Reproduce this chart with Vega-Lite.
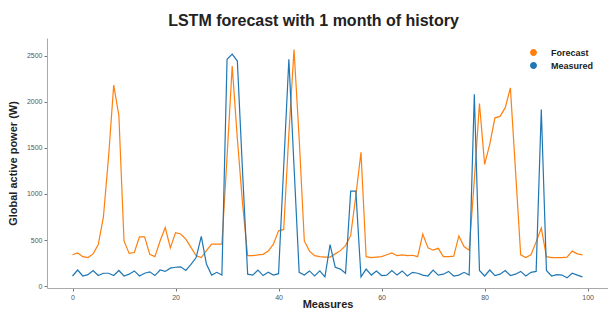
{
  "$schema": "https://vega.github.io/schema/vega-lite/v6.json",
  "width": 561,
  "height": 250,
  "autosize": {"type": "none"},
  "padding": {"left": 47, "top": 38, "right": 0, "bottom": 21},
  "background": "white",
  "title": {"text": "LSTM forecast with 1 month of history", "font": "Liberation Sans", "fontSize": 16, "fontWeight": "bold", "color": "#222222", "anchor": "middle", "dx": -14, "offset": 9},
  "data": {"values": [
    {"measure": 0, "Forecast": 340, "Measured": 110},
    {"measure": 1, "Forecast": 360, "Measured": 175},
    {"measure": 2, "Forecast": 320, "Measured": 110},
    {"measure": 3, "Forecast": 310, "Measured": 125},
    {"measure": 4, "Forecast": 350, "Measured": 170},
    {"measure": 5, "Forecast": 450, "Measured": 115},
    {"measure": 6, "Forecast": 750, "Measured": 140},
    {"measure": 7, "Forecast": 1400, "Measured": 140},
    {"measure": 8, "Forecast": 2180, "Measured": 115},
    {"measure": 9, "Forecast": 1850, "Measured": 170},
    {"measure": 10, "Forecast": 490, "Measured": 110},
    {"measure": 11, "Forecast": 355, "Measured": 130},
    {"measure": 12, "Forecast": 365, "Measured": 165},
    {"measure": 13, "Forecast": 535, "Measured": 110},
    {"measure": 14, "Forecast": 535, "Measured": 140},
    {"measure": 15, "Forecast": 345, "Measured": 155},
    {"measure": 16, "Forecast": 320, "Measured": 115},
    {"measure": 17, "Forecast": 490, "Measured": 175},
    {"measure": 18, "Forecast": 635, "Measured": 160},
    {"measure": 19, "Forecast": 415, "Measured": 195},
    {"measure": 20, "Forecast": 580, "Measured": 205},
    {"measure": 21, "Forecast": 565, "Measured": 210},
    {"measure": 22, "Forecast": 510, "Measured": 170},
    {"measure": 23, "Forecast": 420, "Measured": 235},
    {"measure": 24, "Forecast": 330, "Measured": 310},
    {"measure": 25, "Forecast": 310, "Measured": 540},
    {"measure": 26, "Forecast": 385, "Measured": 240},
    {"measure": 27, "Forecast": 455, "Measured": 120},
    {"measure": 28, "Forecast": 455, "Measured": 150},
    {"measure": 29, "Forecast": 455, "Measured": 120},
    {"measure": 30, "Forecast": 1400, "Measured": 2460},
    {"measure": 31, "Forecast": 2385, "Measured": 2515},
    {"measure": 32, "Forecast": 1600, "Measured": 2440},
    {"measure": 33, "Forecast": 900, "Measured": 1250},
    {"measure": 34, "Forecast": 330, "Measured": 130},
    {"measure": 35, "Forecast": 330, "Measured": 120},
    {"measure": 36, "Forecast": 340, "Measured": 175},
    {"measure": 37, "Forecast": 345, "Measured": 115},
    {"measure": 38, "Forecast": 380, "Measured": 150},
    {"measure": 39, "Forecast": 455, "Measured": 120},
    {"measure": 40, "Forecast": 600, "Measured": 135},
    {"measure": 41, "Forecast": 615, "Measured": 1300},
    {"measure": 42, "Forecast": 1650, "Measured": 2460},
    {"measure": 43, "Forecast": 2565, "Measured": 1300},
    {"measure": 44, "Forecast": 1600, "Measured": 150},
    {"measure": 45, "Forecast": 490, "Measured": 120},
    {"measure": 46, "Forecast": 380, "Measured": 165},
    {"measure": 47, "Forecast": 330, "Measured": 110},
    {"measure": 48, "Forecast": 320, "Measured": 165},
    {"measure": 49, "Forecast": 315, "Measured": 100},
    {"measure": 50, "Forecast": 315, "Measured": 450},
    {"measure": 51, "Forecast": 350, "Measured": 205},
    {"measure": 52, "Forecast": 385, "Measured": 185},
    {"measure": 53, "Forecast": 440, "Measured": 140},
    {"measure": 54, "Forecast": 550, "Measured": 1030},
    {"measure": 55, "Forecast": 980, "Measured": 1030},
    {"measure": 56, "Forecast": 1450, "Measured": 100},
    {"measure": 57, "Forecast": 320, "Measured": 185},
    {"measure": 58, "Forecast": 310, "Measured": 120},
    {"measure": 59, "Forecast": 315, "Measured": 165},
    {"measure": 60, "Forecast": 320, "Measured": 115},
    {"measure": 61, "Forecast": 340, "Measured": 120},
    {"measure": 62, "Forecast": 360, "Measured": 170},
    {"measure": 63, "Forecast": 330, "Measured": 120},
    {"measure": 64, "Forecast": 340, "Measured": 165},
    {"measure": 65, "Forecast": 330, "Measured": 110},
    {"measure": 66, "Forecast": 335, "Measured": 150},
    {"measure": 67, "Forecast": 320, "Measured": 140},
    {"measure": 68, "Forecast": 565, "Measured": 120},
    {"measure": 69, "Forecast": 415, "Measured": 110},
    {"measure": 70, "Forecast": 390, "Measured": 175},
    {"measure": 71, "Forecast": 410, "Measured": 120},
    {"measure": 72, "Forecast": 320, "Measured": 130},
    {"measure": 73, "Forecast": 320, "Measured": 160},
    {"measure": 74, "Forecast": 325, "Measured": 110},
    {"measure": 75, "Forecast": 545, "Measured": 120},
    {"measure": 76, "Forecast": 430, "Measured": 150},
    {"measure": 77, "Forecast": 390, "Measured": 120},
    {"measure": 78, "Forecast": 1150, "Measured": 2080},
    {"measure": 79, "Forecast": 1980, "Measured": 170},
    {"measure": 80, "Forecast": 1320, "Measured": 110},
    {"measure": 81, "Forecast": 1540, "Measured": 175},
    {"measure": 82, "Forecast": 1825, "Measured": 115},
    {"measure": 83, "Forecast": 1840, "Measured": 130},
    {"measure": 84, "Forecast": 1935, "Measured": 170},
    {"measure": 85, "Forecast": 2150, "Measured": 115},
    {"measure": 86, "Forecast": 1250, "Measured": 130},
    {"measure": 87, "Forecast": 340, "Measured": 160},
    {"measure": 88, "Forecast": 310, "Measured": 110},
    {"measure": 89, "Forecast": 340, "Measured": 150},
    {"measure": 90, "Forecast": 480, "Measured": 160},
    {"measure": 91, "Forecast": 630, "Measured": 1915},
    {"measure": 92, "Forecast": 320, "Measured": 170},
    {"measure": 93, "Forecast": 310, "Measured": 110},
    {"measure": 94, "Forecast": 310, "Measured": 125},
    {"measure": 95, "Forecast": 310, "Measured": 120},
    {"measure": 96, "Forecast": 315, "Measured": 90},
    {"measure": 97, "Forecast": 380, "Measured": 140},
    {"measure": 98, "Forecast": 350, "Measured": 120},
    {"measure": 99, "Forecast": 340, "Measured": 100}
  ]},
  "transform": [{"fold": ["Forecast", "Measured"], "as": ["series", "power"]}],
  "mark": {"type": "line", "strokeWidth": 1.2},
  "encoding": {
    "x": {
      "field": "measure", "type": "quantitative",
      "scale": {"domain": [-4.95, 103.95], "nice": false, "zero": false},
      "axis": {"values": [0, 20, 40, 60, 80, 100], "format": "d", "grid": false, "title": "Measures", "titleFont": "Liberation Sans", "titleFontSize": 11, "titleFontWeight": "bold", "titleColor": "#222222", "titlePadding": -2, "labelFont": "Liberation Sans", "labelFontSize": 7, "labelColor": "#555555", "labelPadding": 2, "tickSize": 3, "tickColor": "#777777", "domainColor": "#aaaaaa"}
    },
    "y": {
      "field": "power", "type": "quantitative",
      "scale": {"domain": [-20, 2690], "nice": false, "zero": false},
      "axis": {"values": [0, 500, 1000, 1500, 2000, 2500], "format": "d", "grid": false, "title": "Global active power (W)", "titleFont": "Liberation Sans", "titleFontSize": 11, "titleFontWeight": "bold", "titleColor": "#222222", "titlePadding": 8, "labelFont": "Liberation Sans", "labelFontSize": 7, "labelColor": "#555555", "labelPadding": 2, "tickSize": 3, "tickColor": "#777777", "domainColor": "#aaaaaa"}
    },
    "color": {
      "field": "series", "type": "nominal",
      "scale": {"domain": ["Forecast", "Measured"], "range": ["#ff7f0e", "#1f77b4"]},
      "legend": {"orient": "none", "legendX": 482, "legendY": 10, "title": null, "symbolType": "circle", "symbolSize": 12, "symbolStrokeWidth": 3.5, "clipHeight": 9, "labelFont": "Liberation Sans", "labelFontSize": 9, "labelFontWeight": "bold", "labelColor": "#222222", "labelOffset": 13, "rowPadding": 3, "padding": 0}
    }
  },
  "config": {"view": {"stroke": null}, "legend": {"symbolOpacity": 1}}
}
